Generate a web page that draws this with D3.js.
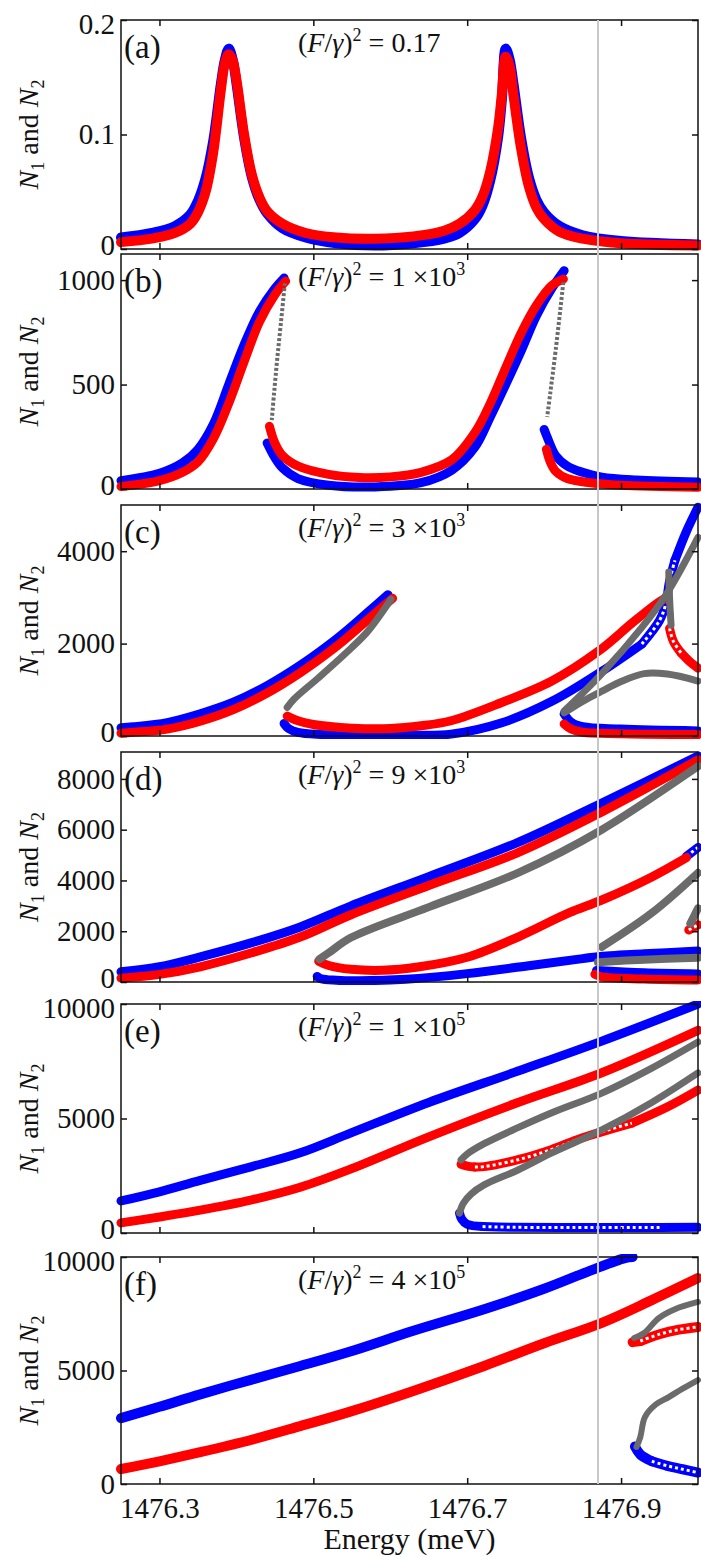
<!DOCTYPE html>
<html>
<head>
<meta charset="utf-8">
<script src="https://cdn.jsdelivr.net/npm/d3@7"></script>
<style>
  body { margin: 0; background: #fff; }
  svg { display: block; }
</style>
</head>
<body>
<svg id="chart" width="701" height="1557"></svg>
<script>
var SERIF = "Liberation Serif";

// energy axis (meV)
var energyDomain = [1476.25, 1477.0];
var energyTicks = [1476.3, 1476.5, 1476.7, 1476.9];
var markerEnergy = 1476.87;

// one entry per panel
var panelLetters = ["(a)", "(b)", "(c)", "(d)", "(e)", "(f)"];
var driveMantissa = ["0.17", "1 \u00d710", "3 \u00d710", "9 \u00d710", "1 \u00d710", "4 \u00d710"];
var driveExponent = [null, "3", "3", "3", "5", "5"];
var yMax = [0.2, 1125, 5000, 9060, 10000, 10000];
var yTicks = [[0, 0.1, 0.2], [0, 500, 1000], [0, 2000, 4000], [0, 2000, 4000, 6000, 8000], [0, 5000, 10000], [0, 5000, 10000]];

// (a)  [energy, N]
var a_n1 = [[1476.25,0.010],[1476.29,0.014],[1476.32,0.02],[1476.34,0.03],[1476.35,0.042],[1476.36,0.062],[1476.37,0.095],[1476.38,0.145],[1476.385,0.165],[1476.39,0.175],[1476.395,0.166],[1476.40,0.145],[1476.41,0.097],[1476.42,0.063],[1476.43,0.043],[1476.44,0.031],[1476.46,0.018],[1476.49,0.010],[1476.53,0.005],[1476.58,0.003],[1476.63,0.005],[1476.67,0.009],[1476.69,0.014],[1476.71,0.026],[1476.72,0.038],[1476.73,0.06],[1476.74,0.097],[1476.745,0.13],[1476.75,0.175],[1476.755,0.166],[1476.76,0.145],[1476.77,0.097],[1476.78,0.063],[1476.79,0.043],[1476.80,0.032],[1476.82,0.02],[1476.85,0.012],[1476.90,0.007],[1477.0,0.004]];
var a_n2 = [[1476.25,0.006],[1476.29,0.009],[1476.32,0.014],[1476.34,0.022],[1476.35,0.032],[1476.36,0.05],[1476.37,0.085],[1476.38,0.14],[1476.385,0.162],[1476.39,0.17],[1476.395,0.165],[1476.40,0.148],[1476.41,0.10],[1476.42,0.065],[1476.43,0.045],[1476.44,0.033],[1476.46,0.022],[1476.49,0.014],[1476.53,0.010],[1476.58,0.009],[1476.63,0.011],[1476.67,0.016],[1476.69,0.022],[1476.71,0.034],[1476.72,0.046],[1476.73,0.068],[1476.74,0.105],[1476.745,0.135],[1476.75,0.168],[1476.755,0.16],[1476.76,0.135],[1476.77,0.088],[1476.78,0.055],[1476.79,0.036],[1476.80,0.026],[1476.82,0.015],[1476.85,0.009],[1476.90,0.005],[1477.0,0.003]];

// (b)
var b_n1_up = [[1476.25,40],[1476.30,75],[1476.33,125],[1476.35,190],[1476.37,310],[1476.39,500],[1476.41,690],[1476.43,850],[1476.45,960],[1476.462,1010]];
var b_n2_up = [[1476.25,12],[1476.30,40],[1476.33,80],[1476.35,130],[1476.37,240],[1476.39,410],[1476.41,610],[1476.43,800],[1476.45,930],[1476.464,995]];
var b_unst1 = [[1476.463,985],[1476.458,800],[1476.453,620],[1476.449,460],[1476.446,330]];
var b_n1_mid = [[1476.44,220],[1476.45,150],[1476.46,100],[1476.48,50],[1476.52,18],[1476.58,10],[1476.64,30],[1476.68,90],[1476.71,200],[1476.73,345],[1476.75,500],[1476.77,660],[1476.79,830],[1476.81,960],[1476.826,1045]];
var b_n2_mid = [[1476.443,300],[1476.45,220],[1476.46,160],[1476.48,110],[1476.52,70],[1476.56,55],[1476.60,58],[1476.64,80],[1476.68,140],[1476.71,270],[1476.73,410],[1476.75,580],[1476.77,746],[1476.79,880],[1476.81,975],[1476.825,1005]];
var b_unst2 = [[1476.825,990],[1476.815,665],[1476.808,460],[1476.804,345]];
var b_n1_hi = [[1476.80,285],[1476.806,230],[1476.815,160],[1476.83,110],[1476.85,80],[1476.875,57],[1476.92,43],[1477.0,33]];
var b_n2_hi = [[1476.803,190],[1476.808,130],[1476.815,85],[1476.83,50],[1476.86,30],[1476.90,18],[1477.0,8]];

// (c)
var c_n1_up = [[1476.25,180],[1476.266,200],[1476.31,290],[1476.353,480],[1476.396,730],[1476.44,1090],[1476.483,1530],[1476.527,2060],[1476.549,2360],[1476.571,2680],[1476.597,3060]];
var c_n2_up = [[1476.25,60],[1476.266,80],[1476.31,150],[1476.353,320],[1476.396,570],[1476.44,930],[1476.483,1370],[1476.527,1900],[1476.549,2200],[1476.571,2520],[1476.603,2980]];
var c_unst1 = [[1476.466,620],[1476.475,800],[1476.506,1250],[1476.549,1900],[1476.571,2270],[1476.601,2960]];
var c_n1_mid = [[1476.462,270],[1476.468,160],[1476.48,80],[1476.51,35],[1476.56,20],[1476.62,20],[1476.679,40],[1476.744,280],[1476.81,750],[1476.875,1400],[1476.927,1990]];
var c_n1_open = [[1476.927,1990],[1476.95,2500],[1476.958,2850],[1476.963,3350],[1476.97,3800]];
var c_n1_top = [[1476.97,3800],[1476.985,4430],[1477.0,4950]];
var c_n2_mid = [[1476.466,430],[1476.48,330],[1476.50,250],[1476.55,170],[1476.60,160],[1476.64,220],[1476.679,330],[1476.744,720],[1476.81,1190],[1476.871,1840],[1476.914,2440],[1476.945,2850],[1476.957,2980]];
var c_unst_short = [[1476.962,3550],[1476.963,3000],[1476.965,2400]];
var c_n2_open = [[1476.963,2330],[1476.968,2050],[1476.978,1800]];
var c_n2_right = [[1476.978,1800],[1476.99,1600],[1477.0,1470]];
var c_unst_long = [[1476.826,540],[1476.875,1350],[1476.927,2350],[1476.96,3100],[1477.0,4300]];
var c_unst_arc = [[1476.826,500],[1476.85,750],[1476.875,970],[1476.90,1180],[1476.93,1350],[1476.96,1340],[1477.0,1190]];
var c_n1_low = [[1476.826,480],[1476.835,300],[1476.85,200],[1476.90,150],[1477.0,110]];
var c_n2_low = [[1476.826,260],[1476.835,150],[1476.85,80],[1476.90,50],[1477.0,30]];

// (d)
var d_n1_up = [[1476.25,400],[1476.30,600],[1476.353,990],[1476.42,1550],[1476.483,2170],[1476.549,3000],[1476.65,4150],[1476.766,5500],[1476.875,7050],[1477.0,8900]];
var d_n2_up = [[1476.25,150],[1476.30,300],[1476.353,600],[1476.42,1150],[1476.483,1770],[1476.549,2650],[1476.65,3800],[1476.766,5100],[1476.875,6700],[1477.0,8750]];
var d_unst1 = [[1476.508,900],[1476.52,1150],[1476.549,1750],[1476.65,2950],[1476.766,4300],[1476.875,6000],[1477.0,8500]];
var d_n2_mid = [[1476.507,820],[1476.52,650],[1476.549,500],[1476.59,460],[1476.636,590],[1476.701,985],[1476.766,1770],[1476.832,2720],[1476.875,3230],[1476.94,4140],[1476.985,4900]];
var d_n1_tip = [[1476.985,4950],[1477.0,5300]];
var d_n1_mid = [[1476.505,220],[1476.51,130],[1476.53,70],[1476.56,50],[1476.62,110],[1476.70,330],[1476.78,640],[1476.85,920],[1476.87,1000],[1476.93,1110],[1477.0,1220]];
var d_unst_loop = [[1476.87,780],[1476.93,880],[1477.0,960]];
var d_n1_loop = [[1476.868,450],[1476.93,360],[1477.0,320]];
var d_n2_low = [[1476.866,300],[1476.875,200],[1476.93,120],[1477.0,80]];
var d_unst_right = [[1476.875,1380],[1476.94,2720],[1477.0,4300]];
var d_unst_edge = [[1476.99,2300],[1476.995,2600],[1477.0,2900]];
var d_n2_edge = [[1476.988,2050],[1477.0,2250]];

// (e)
var e_n1_up = [[1476.25,1400],[1476.30,1800],[1476.353,2300],[1476.42,2900],[1476.483,3500],[1476.549,4370],[1476.65,5700],[1476.766,7070],[1476.875,8380],[1477.0,10000]];
var e_n2_up = [[1476.25,440],[1476.30,700],[1476.353,1000],[1476.42,1450],[1476.483,2000],[1476.549,2800],[1476.65,4200],[1476.766,5700],[1476.875,7000],[1477.0,8850]];
var e_unst_hi = [[1476.692,3190],[1476.70,3450],[1476.722,3900],[1476.766,4600],[1476.81,5250],[1476.875,6110],[1476.94,7200],[1477.0,8340]];
var e_unst_lo = [[1476.69,870],[1476.695,1300],[1476.705,1700],[1476.722,2100],[1476.766,2750],[1476.81,3500],[1476.875,4500],[1476.94,5700],[1477.0,6990]];
var e_n2_lo = [[1476.692,3000],[1476.70,2920],[1476.71,2880]];
var e_n2_lo_open = [[1476.71,2880],[1476.722,2900],[1476.766,3200],[1476.81,3650],[1476.849,4150],[1476.914,4800]];
var e_n2_lo_end = [[1476.914,4800],[1476.96,5500],[1477.0,6240]];
var e_n1_lo = [[1476.69,870],[1476.693,600],[1476.70,380],[1476.72,280]];
var e_n1_lo_open = [[1476.72,280],[1476.76,250],[1476.82,240],[1476.95,240]];
var e_n1_lo_end = [[1476.95,240],[1477.0,250]];

// (f)
var f_n1_up = [[1476.25,2900],[1476.30,3400],[1476.353,3950],[1476.42,4600],[1476.483,5200],[1476.549,5850],[1476.63,6750],[1476.722,7700],[1476.80,8600],[1476.86,9400],[1476.905,9950],[1476.915,10000]];
var f_n2_up = [[1476.25,660],[1476.30,1000],[1476.353,1400],[1476.42,1950],[1476.483,2550],[1476.549,3200],[1476.63,4100],[1476.722,5200],[1476.80,6200],[1476.875,7100],[1476.94,8100],[1477.0,9070]];
var f_unst_hi = [[1476.917,6430],[1476.93,6650],[1476.949,7310],[1476.97,7700],[1477.0,8020]];
var f_n2_lo = [[1476.915,6250],[1476.925,6300]];
var f_n2_lo_open = [[1476.925,6300],[1476.95,6600],[1476.975,6800],[1477.0,6920]];
var f_unst_lo = [[1476.92,1630],[1476.925,2070],[1476.931,2950],[1476.945,3500],[1476.962,3830],[1476.98,4200],[1477.0,4580]];
var f_n1_lo = [[1476.918,1650],[1476.925,1300],[1476.94,1000]];
var f_n1_lo_open = [[1476.94,1000],[1476.96,800],[1476.98,650],[1477.0,500]];

// kinds: 1 = N1 stable, 2 = N2 stable, 0 = unstable, o1/o2 = open symbols
var panelSeries = [
  [[a_n1,1],[a_n2,2]],
  [[b_n1_up,1],[b_n1_mid,1],[b_n1_hi,1],[b_n2_up,2],[b_n2_mid,2],[b_n2_hi,2],[b_unst1,0],[b_unst2,0]],
  [[c_n1_up,1],[c_n1_mid,1],[c_n1_open,"o1"],[c_n1_top,1],[c_n1_low,1],[c_n2_up,2],[c_n2_mid,2],[c_n2_open,"o2"],[c_n2_right,2],[c_n2_low,2],[c_unst1,0],[c_unst_long,0],[c_unst_arc,0],[c_unst_short,0]],
  [[d_n1_up,1],[d_n1_mid,1],[d_n1_loop,1],[d_n1_tip,"o1"],[d_n2_up,2],[d_n2_mid,2],[d_n2_low,2],[d_n2_edge,"o2"],[d_unst1,0],[d_unst_loop,0],[d_unst_right,0],[d_unst_edge,0]],
  [[e_n1_up,1],[e_n1_lo,1],[e_n1_lo_open,"o1"],[e_n1_lo_end,1],[e_n2_up,2],[e_n2_lo,2],[e_n2_lo_open,"o2"],[e_n2_lo_end,2],[e_unst_hi,0],[e_unst_lo,0]],
  [[f_n1_up,1],[f_n1_lo,1],[f_n1_lo_open,"o1"],[f_n2_up,2],[f_n2_lo,2],[f_n2_lo_open,"o2"],[f_unst_hi,0],[f_unst_lo,0]]
];

var left = 121, right = 698;
var boxes = [[20,249],[254,489],[505,736],[752,982],[1004,1233],[1257,1484]];
var grayWidth = [0, 4, 7, 8, 7, 6];
var bandWidth = [10, 9, 9, 9, 9, 10];
var BLUE = "#0000ff", RED = "#ff0000", GRAY = "#6b6b6b";

var svg = d3.select("#chart");
var x = d3.scaleLinear().domain(energyDomain).range([left, right]);

function serifText(sel) {
  return sel.append("text").attr("font-family", SERIF).attr("fill", "#111");
}

function drawPanel(i) {
  var top = boxes[i][0], bottom = boxes[i][1];
  var y = d3.scaleLinear().domain([0, yMax[i]]).range([bottom, top]);
  var g = svg.append("g");

  g.append("clipPath").attr("id", "clip" + i)
    .append("rect").attr("x", left - 5).attr("y", top - 3)
    .attr("width", right - left + 8).attr("height", bottom - top + 6);

  var line = d3.line()
    .x(function(d) { return x(d[0]); })
    .y(function(d) { return y(d[1]); })
    .curve(d3.curveCatmullRom.alpha(0.5));

  var marks = g.append("g").attr("clip-path", "url(#clip" + i + ")");
  // draw order: blue, red, gray
  var order = [1, "o1", 2, "o2", 0];
  order.forEach(function(kind) {
    panelSeries[i].filter(function(s) { return s[1] === kind; }).forEach(function(s) {
      var color = (kind === 1 || kind === "o1") ? BLUE : (kind === 0 ? GRAY : RED);
      var w = kind === 0 ? grayWidth[i] : bandWidth[i];
      var p = marks.append("path").attr("d", line(s[0]))
        .attr("fill", "none").attr("stroke", color)
        .attr("stroke-width", w).attr("stroke-linecap", "round").attr("stroke-linejoin", "round");
      if (kind === 0 && i === 1) p.attr("stroke-dasharray", "3,2").attr("stroke-linecap", "butt");
      if (kind === "o1" || kind === "o2") {
        marks.append("path").attr("d", line(s[0]))
          .attr("fill", "none").attr("stroke", "#fff")
          .attr("stroke-width", 3).attr("stroke-dasharray", "3,3");
      }
    });
  });

  // axes, ticks pointing inwards
  var yl = g.append("g").attr("transform", "translate(" + left + ",0)")
    .call(d3.axisLeft(y).tickValues(yTicks[i]).tickSize(-6).tickPadding(6)
      .tickFormat(function(d) { return String(d); }));
  var yr = g.append("g").attr("transform", "translate(" + right + ",0)")
    .call(d3.axisRight(y).tickValues(yTicks[i]).tickSize(-6).tickFormat(""));
  var xt = g.append("g").attr("transform", "translate(0," + top + ")")
    .call(d3.axisTop(x).tickValues(energyTicks).tickSize(-6).tickFormat(""));
  var xb = g.append("g").attr("transform", "translate(0," + bottom + ")")
    .call(d3.axisBottom(x).tickValues(energyTicks).tickSize(-6).tickPadding(8)
      .tickFormat(i === 5 ? d3.format(".1f") : ""));
  [yl, yr, xt, xb].forEach(function(a) {
    a.attr("font-family", SERIF);
    a.select(".domain").remove();
    a.selectAll(".tick line").attr("stroke", "#111").attr("stroke-width", 1.5);
    a.selectAll(".tick text").attr("font-family", SERIF).attr("font-size", 29).attr("fill", "#111");
  });
  xb.selectAll(".tick text").attr("dy", "0.9em");
  // nudge the 0 / top labels so stacked panels do not collide
  yl.selectAll(".tick text").attr("dy", function(d) {
    if (d === 0 && i < 5) return "0.2em";
    if (d === yMax[i] || (i >= 4 && d === 10000)) return "0.45em";
    return "0.32em";
  });

  g.append("rect").attr("x", left).attr("y", top)
    .attr("width", right - left).attr("height", bottom - top)
    .attr("fill", "none").attr("stroke", "#111").attr("stroke-width", 1.5);

  serifText(g).attr("x", 124).attr("y", top + 38)
    .attr("font-size", 33).text(panelLetters[i]);

  var t = serifText(g).attr("x", 298).attr("y", top + 32).attr("font-size", 28);
  t.append("tspan").text("(");
  t.append("tspan").attr("font-style", "italic").text("F");
  t.append("tspan").text("/");
  t.append("tspan").attr("font-style", "italic").text("\u03b3");
  t.append("tspan").text(")");
  t.append("tspan").attr("dy", -11).attr("font-size", 18).text("2");
  t.append("tspan").attr("dy", 11).text(" = " + driveMantissa[i]);
  if (driveExponent[i]) {
    t.append("tspan").attr("dy", -11).attr("font-size", 18).text(driveExponent[i]);
  }

  var lab = serifText(g)
    .attr("transform", "translate(38," + ((top + bottom) / 2) + ") rotate(-90)")
    .attr("text-anchor", "middle").attr("font-size", 28);
  lab.append("tspan").attr("font-style", "italic").text("N");
  lab.append("tspan").attr("dy", 6).attr("font-size", 18).text("1");
  lab.append("tspan").attr("dy", -6).text(" and ");
  lab.append("tspan").attr("font-style", "italic").text("N");
  lab.append("tspan").attr("dy", 6).attr("font-size", 18).text("2");
}

for (var i = 0; i < 6; i++) drawPanel(i);

// reference energy line across all panels
svg.append("line")
  .attr("x1", x(markerEnergy)).attr("x2", x(markerEnergy))
  .attr("y1", boxes[0][0]).attr("y2", boxes[5][1])
  .attr("stroke", "#c8c8c8").attr("stroke-width", 2);

serifText(svg).attr("x", (left + right) / 2).attr("y", 1549)
  .attr("text-anchor", "middle").attr("font-size", 30).text("Energy (meV)");
</script>
</body>
</html>
